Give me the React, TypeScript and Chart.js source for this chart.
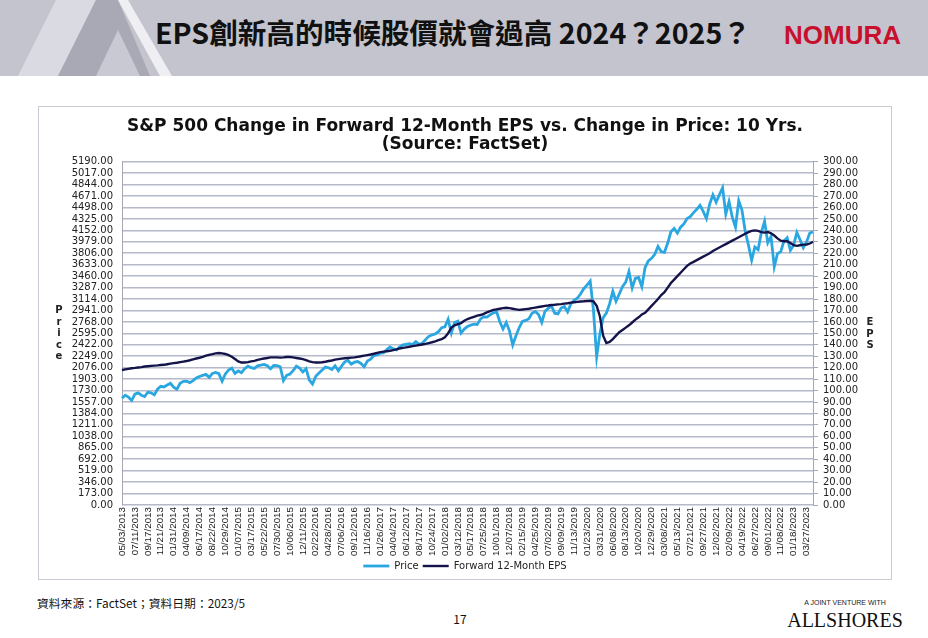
import { useEffect, useRef } from 'react';
import { Chart, registerables } from 'chart.js';

Chart.register(...registerables);

const tickLabels = [
  '05/03/2013', '07/11/2013', '09/17/2013', '11/21/2013',
  '01/31/2014', '04/09/2014', '06/17/2014', '08/22/2014', '10/29/2014',
  '01/07/2015', '03/17/2015', '05/22/2015', '07/30/2015', '10/06/2015', '12/11/2015',
  '02/22/2016', '04/28/2016', '07/06/2016', '09/12/2016', '11/16/2016',
  '01/26/2017', '04/04/2017', '06/12/2017', '08/17/2017', '10/24/2017',
  '01/02/2018', '03/12/2018', '05/17/2018', '07/25/2018', '10/01/2018', '12/07/2018',
  '02/15/2019', '04/25/2019', '07/02/2019', '09/09/2019', '11/13/2019',
  '01/23/2020', '03/31/2020', '06/08/2020', '08/13/2020', '10/20/2020', '12/29/2020',
  '03/08/2021', '05/13/2021', '07/21/2021', '09/27/2021', '12/02/2021',
  '02/09/2022', '04/19/2022', '06/27/2022', '09/01/2022', '11/08/2022',
  '01/18/2023', '03/27/2023',
];

// S&P 500 price, ~4 readings per tick interval
const priceValues = [
  1614, 1660, 1630, 1580, 1675, 1695, 1660, 1640, 1705, 1695, 1665, 1750, 1795, 1785, 1815, 1840,
  1782, 1750, 1840, 1870, 1872, 1850, 1880, 1920, 1942, 1960, 1975, 1930, 1990, 2005, 1985, 1870,
  1982, 2040, 2070, 1990, 2026, 2000, 2060, 2100, 2075, 2065, 2105, 2115, 2126, 2105, 2060, 2110,
  2108, 2090, 1880, 1960, 1980, 2030, 2100, 2070, 2012, 2060, 1890, 1830, 1945, 1995, 2040, 2085,
  2075, 2050, 2105, 2030, 2100, 2165, 2185, 2130, 2159, 2168, 2140, 2090, 2177, 2205, 2260, 2270,
  2296, 2300, 2350, 2390, 2360, 2345, 2390, 2420, 2430, 2440, 2425, 2470, 2430, 2445, 2500, 2550,
  2570, 2585, 2620, 2680, 2695, 2810, 2600, 2760, 2780, 2600, 2660, 2700, 2720, 2735, 2730, 2810,
  2846, 2840, 2875, 2905, 2924, 2770, 2660, 2760, 2633, 2420, 2560, 2680, 2775, 2790, 2815, 2900,
  2926, 2880, 2760, 2930, 2973, 3010, 2900, 2890, 2978, 3000, 2920, 3040, 3094, 3125, 3190, 3270,
  3325, 3386, 2950, 2240, 2590, 2830, 2900, 3040, 3230, 3080, 3190, 3300, 3370, 3530, 3280, 3430,
  3440, 3300, 3590, 3690, 3730, 3790, 3910, 3830, 3820, 3960, 4130, 4180, 4110, 4200, 4250, 4330,
  4360, 4420, 4470, 4530, 4440, 4330, 4550, 4690, 4577, 4690, 4796, 4400, 4587, 4350, 4200, 4600,
  4460, 4140, 3930, 3700, 3900, 3860, 4120, 4290, 3966, 4060, 3600, 3800, 3828, 3990, 4040, 3850,
  3928, 4120, 4010, 3890, 3977, 4110, 4130,
];

// Forward 12-month EPS, same sampling
const epsValues = [
  118.0, 118.5, 119.0, 119.5, 119.8, 120.2, 120.5, 121.0, 121.3, 121.6, 121.8, 122.0, 122.3, 122.5, 123.0, 123.5,
  124.0, 124.3, 124.8, 125.3, 125.8, 126.5, 127.3, 128.0, 128.7, 129.5, 130.5, 131.2, 131.8, 132.5, 132.8, 132.5,
  132.0, 131.0, 129.5, 127.5, 125.5, 124.5, 124.5, 124.8, 125.5, 126.0, 126.8, 127.5, 128.0, 128.5, 129.0, 129.0,
  129.0, 128.8, 129.0, 129.3, 129.3, 129.0, 128.5, 128.0, 127.5, 126.5, 125.5, 124.8, 124.5, 124.5, 124.8, 125.2,
  125.8, 126.3, 127.0, 127.5, 127.9, 128.2, 128.5, 128.8, 129.0, 129.5, 130.0, 130.5, 131.0, 131.5, 132.2, 133.0,
  133.6, 134.0, 134.4, 134.8, 135.3, 136.0, 136.8, 137.3, 137.8, 138.3, 138.8, 139.3, 139.8, 140.3, 140.8, 141.5,
  142.2, 143.0, 144.0, 145.0, 146.5, 150.0, 155.0, 157.0, 158.0, 159.0, 161.0, 162.5, 163.5, 164.5, 165.5, 166.0,
  167.0, 168.3, 169.5, 170.5, 171.0, 171.5, 172.0, 172.3, 172.0, 171.5, 171.0, 170.5, 170.8, 171.2, 171.5, 172.0,
  172.5, 173.0, 173.5, 174.0, 174.3, 174.8, 175.0, 175.3, 175.5, 176.0, 176.3, 176.8, 177.2, 177.5, 177.8, 178.0,
  178.3, 178.5, 178.0, 174.0, 165.0, 148.0, 141.5, 142.5, 145.0, 148.0, 151.0, 153.0, 155.0, 157.0, 159.5, 162.0,
  164.0, 166.5, 168.0, 171.0, 174.0, 177.0, 180.0, 183.5, 186.0, 190.0, 194.0, 197.0, 200.0, 203.0, 206.0, 209.0,
  211.0, 212.5, 214.0, 215.5, 217.0, 218.5, 220.0, 222.0, 223.5, 225.0, 226.5, 228.0, 229.5, 231.0, 232.5, 234.0,
  235.5, 237.0, 238.5, 239.5, 240.0, 239.5, 238.5, 238.0, 238.5, 237.5, 235.5, 233.0, 231.0, 230.5, 230.5, 229.0,
  227.0, 226.5, 227.0, 227.5, 227.5, 228.5, 230.0,
];

const PRICE_MAX = 5190;
const PRICE_STEP = 173;
const EPS_MAX = 300;
const EPS_STEP = 10;
const POINTS_PER_TICK = 4;

const DV = "'DejaVu Sans', sans-serif";
const LIB = "'Liberation Sans', Arial, sans-serif";
const CJK = "'Noto Sans CJK TC', 'Noto Sans CJK SC', sans-serif";

export default function App() {
  const ref = useRef<HTMLCanvasElement>(null);

  useEffect(() => {
    if (!ref.current) return;
    const labels = priceValues.map((_, i) =>
      i % POINTS_PER_TICK === 0 && tickLabels[i / POINTS_PER_TICK] ? tickLabels[i / POINTS_PER_TICK] : ''
    );
    const chart = new Chart(ref.current, {
      type: 'line',
      data: {
        labels,
        datasets: [
          {
            label: 'Price',
            data: priceValues,
            borderColor: '#2aa7e1',
            backgroundColor: '#2aa7e1',
            borderWidth: 2.8,
            pointRadius: 0,
            yAxisID: 'y',
            order: 2,
          },
          {
            label: 'Forward 12-Month EPS',
            data: epsValues,
            borderColor: '#14144a',
            backgroundColor: '#14144a',
            borderWidth: 2.4,
            pointRadius: 0,
            yAxisID: 'y1',
            order: 1,
          },
        ],
      },
      options: {
        responsive: false,
        animation: false,
        layout: { padding: 0 },
        plugins: {
          title: {
            display: true,
            text: 'S&P 500 Change in Forward 12-Month EPS vs. Change in Price: 10 Yrs.',
            color: '#111',
            font: { family: DV, size: 17, weight: 'bold', lineHeight: 1 },
            padding: { top: 11.5, bottom: 1 },
          },
          subtitle: {
            display: true,
            text: '(Source: FactSet)',
            color: '#111',
            font: { family: DV, size: 17, weight: 'bold', lineHeight: 1 },
            padding: { top: 0, bottom: 8.2 },
          },
          legend: {
            position: 'bottom',
            labels: {
              usePointStyle: true,
              pointStyle: 'line',
              pointStyleWidth: 26,
              color: '#222',
              font: { family: DV, size: 10 },
              padding: 4,
              sort: (a: any, b: any) => a.datasetIndex - b.datasetIndex,
            },
          },
          tooltip: { enabled: false },
        },
        scales: {
          x: {
            type: 'category',
            grid: { display: false, drawTicks: false, tickLength: 0 },
            border: { display: false },
            ticks: {
              autoSkip: false,
              maxRotation: 90,
              minRotation: 90,
              padding: 2,
              color: '#1a1a1a',
              font: { family: LIB, size: 9.8 },
            },
            afterFit: (s: any) => {
              s.height = 52;
            },
          },
          y: {
            position: 'left',
            min: 0,
            max: PRICE_MAX,
            ticks: {
              stepSize: PRICE_STEP,
              autoSkip: false,
              padding: 9,
              color: '#222',
              font: { family: DV, size: 10 },
              callback: (v: any) => Number(v).toFixed(2),
            },
            grid: { color: '#b6b9c9', lineWidth: 1.6, drawTicks: false },
            border: { display: true, color: '#a5a7b5' },
            afterFit: (s: any) => {
              s.width = 83;
            },
          },
          y1: {
            position: 'right',
            min: 0,
            max: EPS_MAX,
            ticks: {
              stepSize: EPS_STEP,
              autoSkip: false,
              padding: 5,
              color: '#222',
              font: { family: DV, size: 10 },
              callback: (v: any) => Number(v).toFixed(2),
            },
            grid: { drawOnChartArea: false, tickLength: 5, color: '#a5a7b5' },
            border: { display: true, color: '#a5a7b5' },
            afterFit: (s: any) => {
              s.width = 78;
            },
          },
        },
      } as any,
    });
    return () => chart.destroy();
  }, []);

  const stacked = (text: string, left: number, top: number) => (
    <div
      style={{
        position: 'absolute',
        left,
        top,
        width: 12,
        textAlign: 'center',
        fontFamily: DV,
        fontWeight: 'bold',
        fontSize: 10,
        lineHeight: '11.6px',
        color: '#222',
      }}
    >
      {text.split('').map((ch, i) => (
        <div key={i}>{ch}</div>
      ))}
    </div>
  );

  return (
    <div
      style={{
        position: 'absolute',
        left: 0,
        top: 0,
        width: 928,
        height: 638,
        background: '#ffffff',
        overflow: 'hidden',
      }}
    >
      <svg width={928} height={76} style={{ position: 'absolute', left: 0, top: 0 }}>
        <rect x={0} y={0} width={928} height={76} fill="#c4c4ce" />
        <polygon points="18,76 56,0 96,0 58,76" fill="#dadae3" />
        <polygon points="58,76 96,0 118,0 150,76" fill="#a9a9b6" />
        <polygon points="118,0 128,0 172,76 160,76" fill="#eeeef3" />
        <polygon points="96,76 118,30 140,76" fill="#c9c9d3" />
      </svg>
      <div
        style={{
          position: 'absolute',
          left: 155,
          top: 12,
          fontFamily: CJK,
          fontWeight: 'bold',
          fontSize: 28.6,
          lineHeight: '40px',
          color: '#111',
          whiteSpace: 'nowrap',
        }}
      >
        EPS創新高的時候股價就會過高 2024？2025？
      </div>
      <div
        style={{
          position: 'absolute',
          left: 784,
          top: 20,
          fontFamily: LIB,
          fontWeight: 'bold',
          fontSize: 26,
          lineHeight: '30px',
          color: '#c8102e',
          whiteSpace: 'nowrap',
        }}
      >
        NOMURA
      </div>

      <div
        style={{
          position: 'absolute',
          left: 38,
          top: 106,
          width: 854,
          height: 474,
          border: '1px solid #c9cad3',
          boxSizing: 'border-box',
        }}
      />
      <canvas
        ref={ref}
        width={852}
        height={474}
        style={{ position: 'absolute', left: 39, top: 107, width: 852, height: 474 }}
      />
      {stacked('Price', 53, 304)}
      {stacked('EPS', 864, 316)}

      <div
        style={{
          position: 'absolute',
          left: 37,
          top: 594,
          fontFamily: CJK,
          fontSize: 11.8,
          lineHeight: '18px',
          color: '#111',
          whiteSpace: 'nowrap',
        }}
      >
        資料來源：FactSet；資料日期：2023/5
      </div>
      <div
        style={{
          position: 'absolute',
          left: 440,
          width: 40,
          top: 610,
          textAlign: 'center',
          fontFamily: CJK,
          fontSize: 12,
          lineHeight: '18px',
          color: '#111',
        }}
      >
        17
      </div>
      <div
        style={{
          position: 'absolute',
          left: 786,
          width: 118,
          top: 598,
          textAlign: 'center',
          fontFamily: LIB,
          fontSize: 7,
          lineHeight: '10px',
          color: '#222',
          whiteSpace: 'nowrap',
        }}
      >
        A JOINT VENTURE WITH
      </div>
      <div
        style={{
          position: 'absolute',
          left: 786,
          width: 118,
          top: 607,
          textAlign: 'center',
          fontFamily: "'Liberation Serif', serif",
          fontSize: 20,
          lineHeight: '26px',
          color: '#111',
          whiteSpace: 'nowrap',
        }}
      >
        ALLSHORES
      </div>
    </div>
  );
}
